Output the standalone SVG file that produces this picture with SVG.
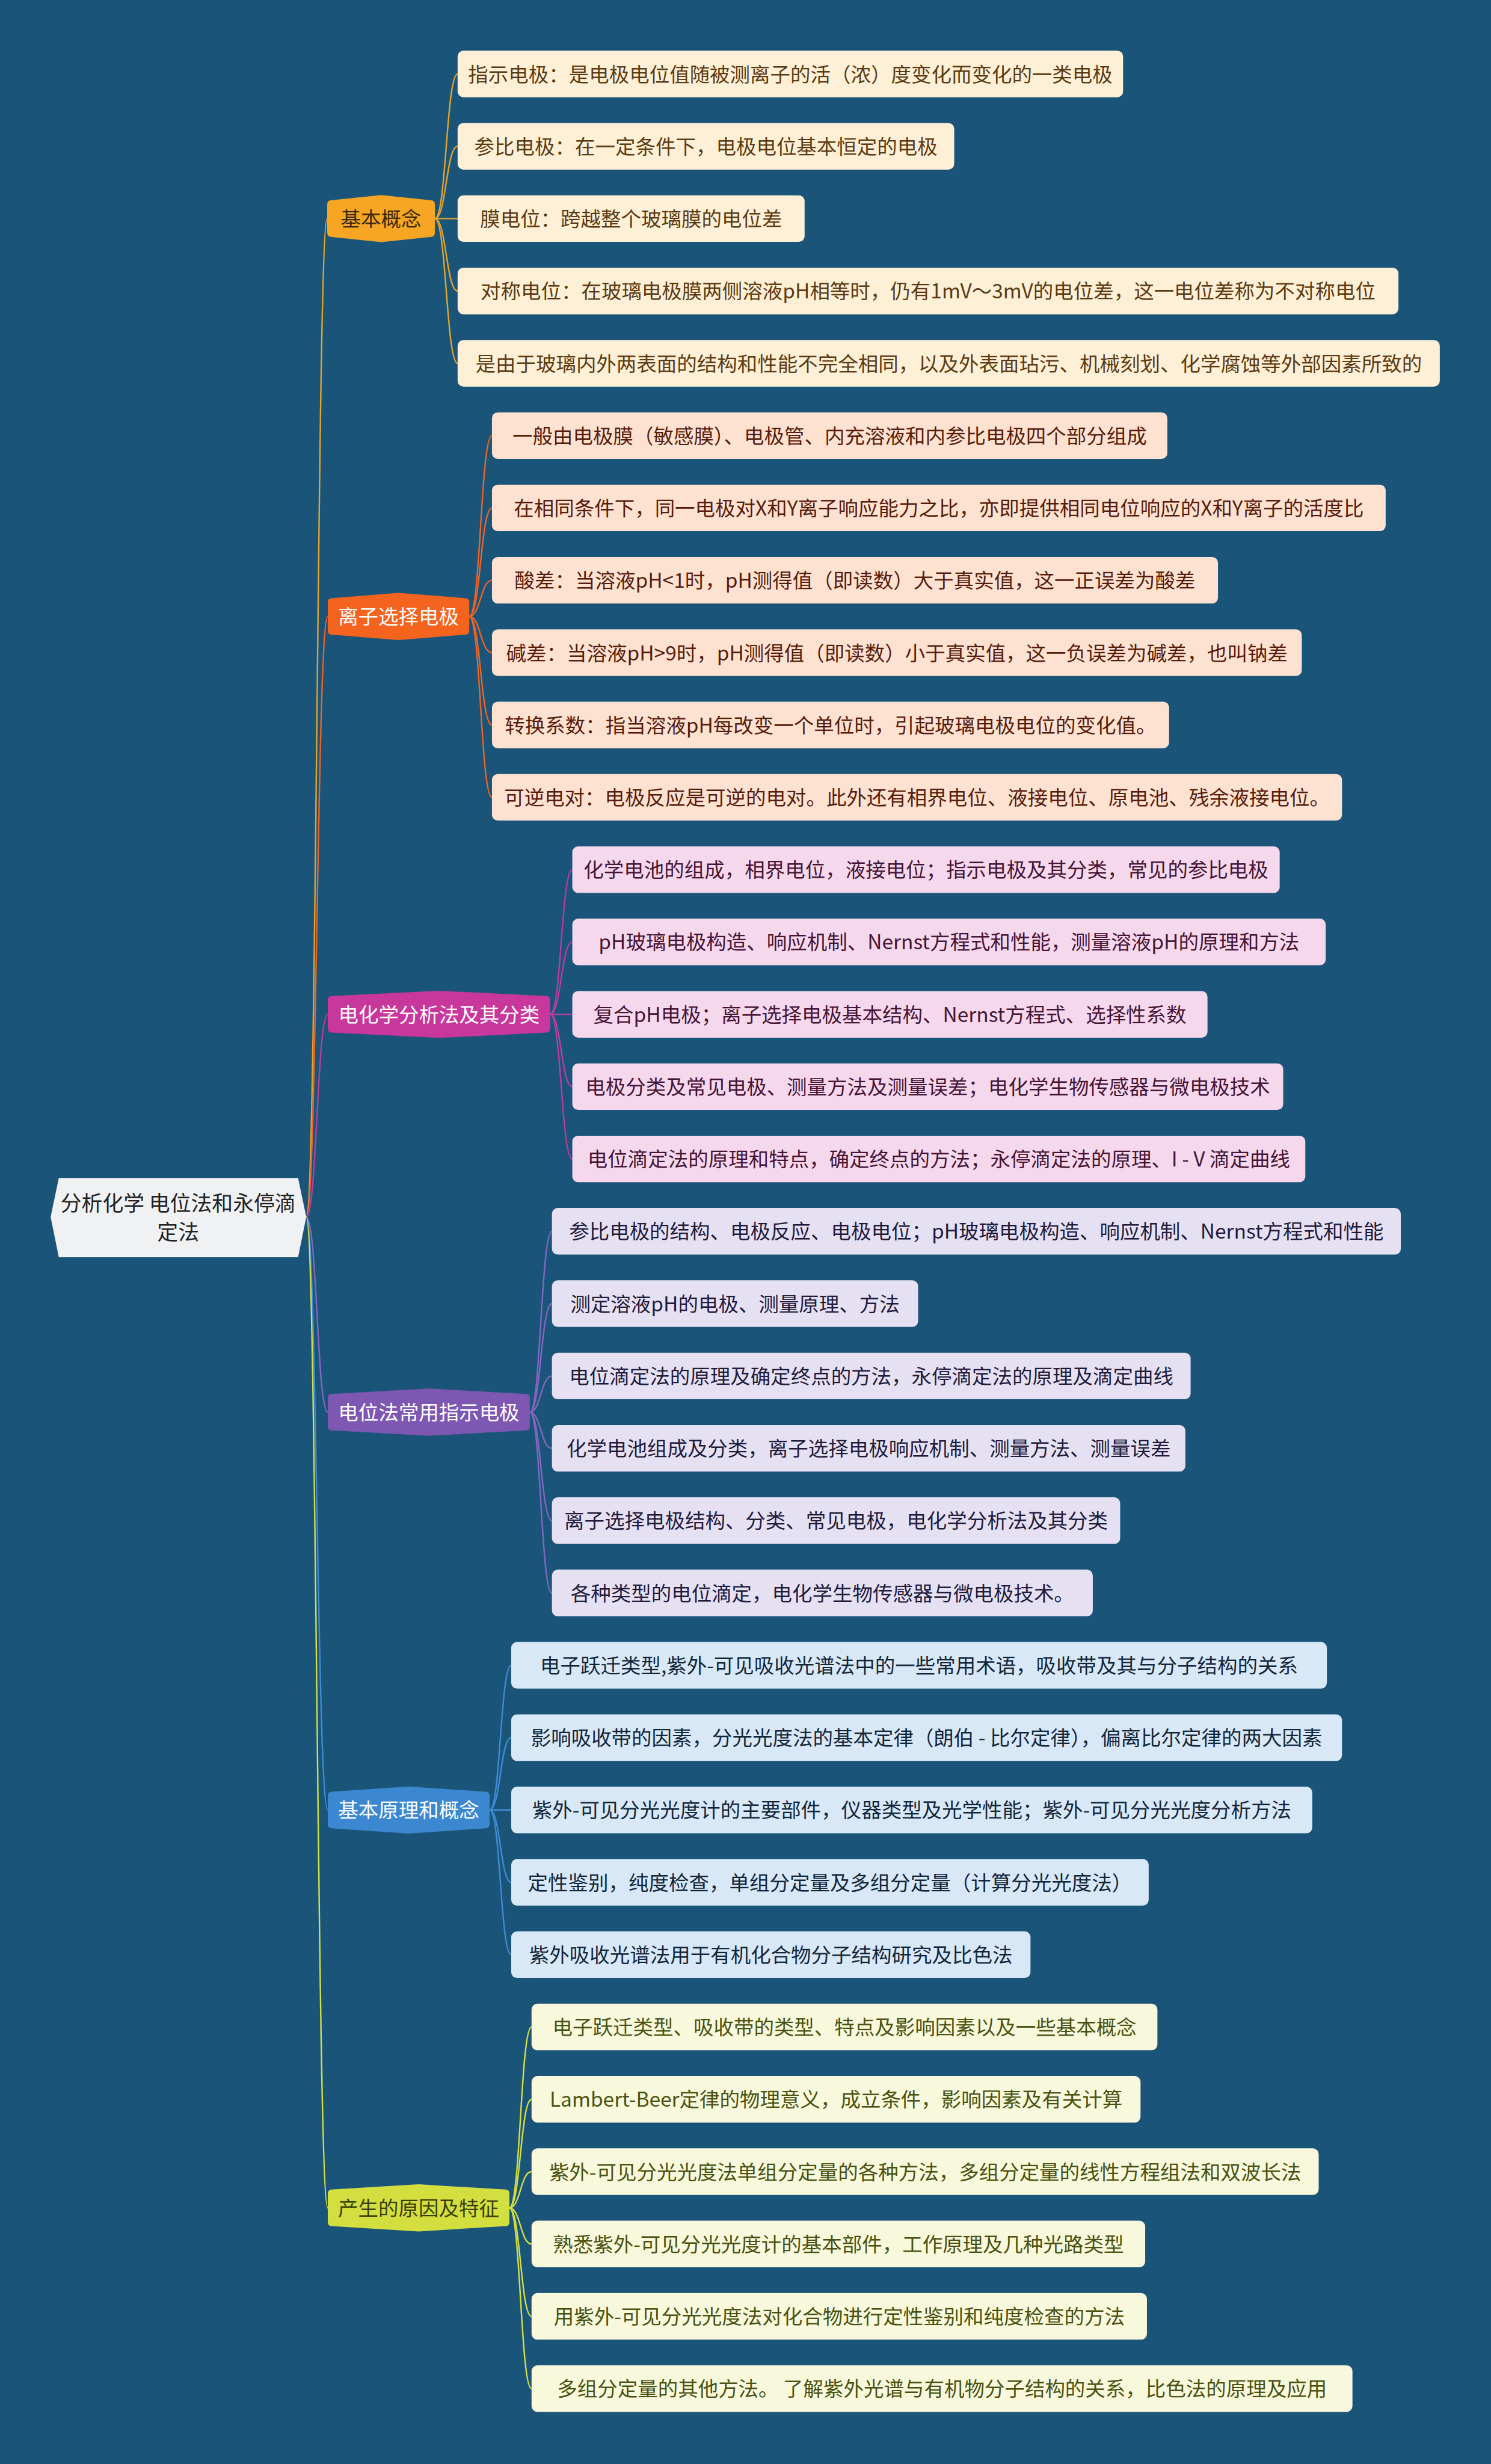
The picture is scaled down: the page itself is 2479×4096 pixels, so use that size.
<svg xmlns="http://www.w3.org/2000/svg" width="2479" height="4096" viewBox="0 0 2479 4096">
<style>
text{font-family:"Noto Sans CJK SC","Noto Sans",sans-serif;font-size:34.6px;text-anchor:middle}
.rt{font-size:36px;fill:#222222}
.box{stroke:none}
.c path{fill:none;stroke-width:2.5}
.b1 .box{fill:#fdf0d6}.b1 text{fill:#5c3a12}.b1 .hx{fill:#f6a623}.b1 .ht{fill:#3b2a08}
.b2 .box{fill:#fde2d2}.b2 text{fill:#571c0b}.b2 .hx{fill:#f5641f}.b2 .ht{fill:#ffffff}
.b3 .box{fill:#f5d8ec}.b3 text{fill:#461435}.b3 .hx{fill:#c8379b}.b3 .ht{fill:#ffffff}
.b4 .box{fill:#e6e1f2}.b4 text{fill:#221b3b}.b4 .hx{fill:#7d57b1}.b4 .ht{fill:#ffffff}
.b5 .box{fill:#d8e8f6}.b5 text{fill:#12263a}.b5 .hx{fill:#3b88d1}.b5 .ht{fill:#ffffff}
.b6 .box{fill:#f7f8dc}.b6 text{fill:#4a5210}.b6 .hx{fill:#d3df3f}.b6 .ht{fill:#3a3e08}
.k1{stroke:#e2a42c}.k2{stroke:#ec6428}.k3{stroke:#b83d9e}.k4{stroke:#8466c2}.k5{stroke:#3e8bd6}.k6{stroke:#d3e044}
</style>
<rect x="0" y="0" width="2479" height="4096" fill="#1b5479"/>
<g transform="scale(0.968)">
<g id="connectors" class="c">
<path class="k1" d="M526,2090 C544.5,2090 544.5,375.4 562,375.4"/>
<path class="k2" d="M526,2090 C544.5,2090 544.5,1058.6 563,1058.6"/>
<path class="k3" d="M526,2090 C544.5,2090 544.5,1741.9 563,1741.9"/>
<path class="k4" d="M526,2090 C544.5,2090 544.5,2425.1 563,2425.1"/>
<path class="k5" d="M526,2090 C544.5,2090 544.5,3108.3 563,3108.3"/>
<path class="k6" d="M526,2090 C544.5,2090 544.5,3791.5 563,3791.5"/>
<path class="k1" d="M747,375.4 C766.5,375.4 766.5,127 786,127"/>
<path class="k1" d="M747,375.4 C766.5,375.4 766.5,251.2 786,251.2"/>
<path class="k1" d="M747,375.4 C766.5,375.4 766.5,375.4 786,375.4"/>
<path class="k1" d="M747,375.4 C766.5,375.4 766.5,499.7 786,499.7"/>
<path class="k1" d="M747,375.4 C766.5,375.4 766.5,623.9 786,623.9"/>
<path class="k2" d="M806,1058.6 C825.5,1058.6 825.5,748.1 845,748.1"/>
<path class="k2" d="M806,1058.6 C825.5,1058.6 825.5,872.3 845,872.3"/>
<path class="k2" d="M806,1058.6 C825.5,1058.6 825.5,996.5 845,996.5"/>
<path class="k2" d="M806,1058.6 C825.5,1058.6 825.5,1120.8 845,1120.8"/>
<path class="k2" d="M806,1058.6 C825.5,1058.6 825.5,1245 845,1245"/>
<path class="k2" d="M806,1058.6 C825.5,1058.6 825.5,1369.2 845,1369.2"/>
<path class="k3" d="M945,1741.9 C964,1741.9 964,1493.4 983,1493.4"/>
<path class="k3" d="M945,1741.9 C964,1741.9 964,1617.6 983,1617.6"/>
<path class="k3" d="M945,1741.9 C964,1741.9 964,1741.9 983,1741.9"/>
<path class="k3" d="M945,1741.9 C964,1741.9 964,1866.1 983,1866.1"/>
<path class="k3" d="M945,1741.9 C964,1741.9 964,1990.3 983,1990.3"/>
<path class="k4" d="M910,2425.1 C929,2425.1 929,2114.5 948,2114.5"/>
<path class="k4" d="M910,2425.1 C929,2425.1 929,2238.7 948,2238.7"/>
<path class="k4" d="M910,2425.1 C929,2425.1 929,2363 948,2363"/>
<path class="k4" d="M910,2425.1 C929,2425.1 929,2487.2 948,2487.2"/>
<path class="k4" d="M910,2425.1 C929,2425.1 929,2611.4 948,2611.4"/>
<path class="k4" d="M910,2425.1 C929,2425.1 929,2735.6 948,2735.6"/>
<path class="k5" d="M841,3108.3 C859.5,3108.3 859.5,2859.8 878,2859.8"/>
<path class="k5" d="M841,3108.3 C859.5,3108.3 859.5,2984.1 878,2984.1"/>
<path class="k5" d="M841,3108.3 C859.5,3108.3 859.5,3108.3 878,3108.3"/>
<path class="k5" d="M841,3108.3 C859.5,3108.3 859.5,3232.5 878,3232.5"/>
<path class="k5" d="M841,3108.3 C859.5,3108.3 859.5,3356.7 878,3356.7"/>
<path class="k6" d="M875,3791.5 C894,3791.5 894,3480.9 913,3480.9"/>
<path class="k6" d="M875,3791.5 C894,3791.5 894,3605.2 913,3605.2"/>
<path class="k6" d="M875,3791.5 C894,3791.5 894,3729.4 913,3729.4"/>
<path class="k6" d="M875,3791.5 C894,3791.5 894,3853.6 913,3853.6"/>
<path class="k6" d="M875,3791.5 C894,3791.5 894,3977.8 913,3977.8"/>
<path class="k6" d="M875,3791.5 C894,3791.5 894,4102 913,4102"/>
</g>
<g id="root">
<polygon points="101,2023 512,2023 526,2090 512,2159 101,2159 87,2090" fill="#f0f1f3"/>
<text class="rt" x="306" y="2080">分析化学 电位法和永停滴</text>
<text class="rt" x="306" y="2129">定法</text>
</g>
<g id="branch1" class="b1">
<path class="hx" d="M562,351.4 Q562,344.7 568,344.1 L654.5,334.9 L741,344.1 Q747,344.7 747,351.4 L747,399.4 Q747,406.1 741,406.7 L654.5,415.9 L568,406.7 Q562,406.1 562,399.4 Z"/>
<text class="ht" x="654.5" y="388.4">基本概念</text>
</g>
<g id="leaf1-1" class="b1"><rect class="box" x="786" y="87" width="1143" height="80" rx="10"/><text x="1357.5" y="140">指示电极：是电极电位值随被测离子的活（浓）度变化而变化的一类电极</text></g>
<g id="leaf1-2" class="b1"><rect class="box" x="786" y="211.2" width="853" height="80" rx="10"/><text x="1212.5" y="264.2">参比电极：在一定条件下，电极电位基本恒定的电极</text></g>
<g id="leaf1-3" class="b1"><rect class="box" x="786" y="335.4" width="596" height="80" rx="10"/><text x="1084" y="388.4">膜电位：跨越整个玻璃膜的电位差</text></g>
<g id="leaf1-4" class="b1"><rect class="box" x="786" y="459.7" width="1616" height="80" rx="10"/><text x="1594" y="512.7">对称电位：在玻璃电极膜两侧溶液pH相等时，仍有1mV～3mV的电位差，这一电位差称为不对称电位</text></g>
<g id="leaf1-5" class="b1"><rect class="box" x="786" y="583.9" width="1687" height="80" rx="10"/><text x="1629.5" y="636.9">是由于玻璃内外两表面的结构和性能不完全相同，以及外表面玷污、机械刻划、化学腐蚀等外部因素所致的</text></g>
<g id="branch2" class="b2">
<path class="hx" d="M563,1034.6 Q563,1027.9 569,1027.3 L684.5,1018.1 L800,1027.3 Q806,1027.9 806,1034.6 L806,1082.6 Q806,1089.3 800,1089.9 L684.5,1099.1 L569,1089.9 Q563,1089.3 563,1082.6 Z"/>
<text class="ht" x="684.5" y="1071.6">离子选择电极</text>
</g>
<g id="leaf2-1" class="b2"><rect class="box" x="845" y="708.1" width="1160" height="80" rx="10"/><text x="1425" y="761.1">一般由电极膜（敏感膜）、电极管、内充溶液和内参比电极四个部分组成</text></g>
<g id="leaf2-2" class="b2"><rect class="box" x="845" y="832.3" width="1535" height="80" rx="10"/><text x="1612.5" y="885.3">在相同条件下，同一电极对X和Y离子响应能力之比，亦即提供相同电位响应的X和Y离子的活度比</text></g>
<g id="leaf2-3" class="b2"><rect class="box" x="845" y="956.5" width="1247" height="80" rx="10"/><text x="1468.5" y="1009.5">酸差：当溶液pH&lt;1时，pH测得值（即读数）大于真实值，这一正误差为酸差</text></g>
<g id="leaf2-4" class="b2"><rect class="box" x="845" y="1080.8" width="1391" height="80" rx="10"/><text x="1540.5" y="1133.8">碱差：当溶液pH&gt;9时，pH测得值（即读数）小于真实值，这一负误差为碱差，也叫钠差</text></g>
<g id="leaf2-5" class="b2"><rect class="box" x="845" y="1205" width="1163" height="80" rx="10"/><text x="1426.5" y="1258">转换系数：指当溶液pH每改变一个单位时，引起玻璃电极电位的变化值。</text></g>
<g id="leaf2-6" class="b2"><rect class="box" x="845" y="1329.2" width="1460" height="80" rx="10"/><text x="1575" y="1382.2">可逆电对：电极反应是可逆的电对。此外还有相界电位、液接电位、原电池、残余液接电位。</text></g>
<g id="branch3" class="b3">
<path class="hx" d="M563,1717.9 Q563,1711.2 569,1710.6 L754,1701.4 L939,1710.6 Q945,1711.2 945,1717.9 L945,1765.9 Q945,1772.6 939,1773.2 L754,1782.4 L569,1773.2 Q563,1772.6 563,1765.9 Z"/>
<text class="ht" x="754" y="1754.9">电化学分析法及其分类</text>
</g>
<g id="leaf3-1" class="b3"><rect class="box" x="983" y="1453.4" width="1215" height="80" rx="10"/><text x="1590.5" y="1506.4">化学电池的组成，相界电位，液接电位；指示电极及其分类，常见的参比电极</text></g>
<g id="leaf3-2" class="b3"><rect class="box" x="983" y="1577.6" width="1294" height="80" rx="10"/><text x="1630" y="1630.6">pH玻璃电极构造、响应机制、Nernst方程式和性能，测量溶液pH的原理和方法</text></g>
<g id="leaf3-3" class="b3"><rect class="box" x="983" y="1701.9" width="1091" height="80" rx="10"/><text x="1528.5" y="1754.9">复合pH电极；离子选择电极基本结构、Nernst方程式、选择性系数</text></g>
<g id="leaf3-4" class="b3"><rect class="box" x="983" y="1826.1" width="1221" height="80" rx="10"/><text x="1593.5" y="1879.1">电极分类及常见电极、测量方法及测量误差；电化学生物传感器与微电极技术</text></g>
<g id="leaf3-5" class="b3"><rect class="box" x="983" y="1950.3" width="1259" height="80" rx="10"/><text x="1612.5" y="2003.3">电位滴定法的原理和特点，确定终点的方法；永停滴定法的原理、I - V 滴定曲线</text></g>
<g id="branch4" class="b4">
<path class="hx" d="M563,2401.1 Q563,2394.4 569,2393.8 L736.5,2384.6 L904,2393.8 Q910,2394.4 910,2401.1 L910,2449.1 Q910,2455.8 904,2456.4 L736.5,2465.6 L569,2456.4 Q563,2455.8 563,2449.1 Z"/>
<text class="ht" x="736.5" y="2438.1">电位法常用指示电极</text>
</g>
<g id="leaf4-1" class="b4"><rect class="box" x="948" y="2074.5" width="1458" height="80" rx="10"/><text x="1677" y="2127.5">参比电极的结构、电极反应、电极电位；pH玻璃电极构造、响应机制、Nernst方程式和性能</text></g>
<g id="leaf4-2" class="b4"><rect class="box" x="948" y="2198.7" width="629" height="80" rx="10"/><text x="1262.5" y="2251.7">测定溶液pH的电极、测量原理、方法</text></g>
<g id="leaf4-3" class="b4"><rect class="box" x="948" y="2323" width="1097" height="80" rx="10"/><text x="1496.5" y="2376">电位滴定法的原理及确定终点的方法，永停滴定法的原理及滴定曲线</text></g>
<g id="leaf4-4" class="b4"><rect class="box" x="948" y="2447.2" width="1088" height="80" rx="10"/><text x="1492" y="2500.2">化学电池组成及分类，离子选择电极响应机制、测量方法、测量误差</text></g>
<g id="leaf4-5" class="b4"><rect class="box" x="948" y="2571.4" width="976" height="80" rx="10"/><text x="1436" y="2624.4">离子选择电极结构、分类、常见电极，电化学分析法及其分类</text></g>
<g id="leaf4-6" class="b4"><rect class="box" x="948" y="2695.6" width="929" height="80" rx="10"/><text x="1412.5" y="2748.6">各种类型的电位滴定，电化学生物传感器与微电极技术。</text></g>
<g id="branch5" class="b5">
<path class="hx" d="M563,3084.3 Q563,3077.6 569,3077 L702,3067.8 L835,3077 Q841,3077.6 841,3084.3 L841,3132.3 Q841,3139 835,3139.6 L702,3148.8 L569,3139.6 Q563,3139 563,3132.3 Z"/>
<text class="ht" x="702" y="3121.3">基本原理和概念</text>
</g>
<g id="leaf5-1" class="b5"><rect class="box" x="878" y="2819.8" width="1401" height="80" rx="10"/><text x="1578.5" y="2872.8">电子跃迁类型,紫外-可见吸收光谱法中的一些常用术语，吸收带及其与分子结构的关系</text></g>
<g id="leaf5-2" class="b5"><rect class="box" x="878" y="2944.1" width="1427" height="80" rx="10"/><text x="1591.5" y="2997.1">影响吸收带的因素，分光光度法的基本定律（朗伯 - 比尔定律），偏离比尔定律的两大因素</text></g>
<g id="leaf5-3" class="b5"><rect class="box" x="878" y="3068.3" width="1376" height="80" rx="10"/><text x="1566" y="3121.3">紫外-可见分光光度计的主要部件，仪器类型及光学性能；紫外-可见分光光度分析方法</text></g>
<g id="leaf5-4" class="b5"><rect class="box" x="878" y="3192.5" width="1095" height="80" rx="10"/><text x="1425.5" y="3245.5">定性鉴别，纯度检查，单组分定量及多组分定量（计算分光光度法）</text></g>
<g id="leaf5-5" class="b5"><rect class="box" x="878" y="3316.7" width="892" height="80" rx="10"/><text x="1324" y="3369.7">紫外吸收光谱法用于有机化合物分子结构研究及比色法</text></g>
<g id="branch6" class="b6">
<path class="hx" d="M563,3767.5 Q563,3760.8 569,3760.2 L719,3751 L869,3760.2 Q875,3760.8 875,3767.5 L875,3815.5 Q875,3822.2 869,3822.8 L719,3832 L569,3822.8 Q563,3822.2 563,3815.5 Z"/>
<text class="ht" x="719" y="3804.5">产生的原因及特征</text>
</g>
<g id="leaf6-1" class="b6"><rect class="box" x="913" y="3440.9" width="1075" height="80" rx="10"/><text x="1450.5" y="3493.9">电子跃迁类型、吸收带的类型、特点及影响因素以及一些基本概念</text></g>
<g id="leaf6-2" class="b6"><rect class="box" x="913" y="3565.2" width="1046" height="80" rx="10"/><text x="1436" y="3618.2">Lambert-Beer定律的物理意义，成立条件，影响因素及有关计算</text></g>
<g id="leaf6-3" class="b6"><rect class="box" x="913" y="3689.4" width="1352" height="80" rx="10"/><text x="1589" y="3742.4">紫外-可见分光光度法单组分定量的各种方法，多组分定量的线性方程组法和双波长法</text></g>
<g id="leaf6-4" class="b6"><rect class="box" x="913" y="3813.6" width="1054" height="80" rx="10"/><text x="1440" y="3866.6">熟悉紫外-可见分光光度计的基本部件，工作原理及几种光路类型</text></g>
<g id="leaf6-5" class="b6"><rect class="box" x="913" y="3937.8" width="1057" height="80" rx="10"/><text x="1441.5" y="3990.8">用紫外-可见分光光度法对化合物进行定性鉴别和纯度检查的方法</text></g>
<g id="leaf6-6" class="b6"><rect class="box" x="913" y="4062" width="1410" height="80" rx="10"/><text x="1618" y="4115">多组分定量的其他方法。 了解紫外光谱与有机物分子结构的关系，比色法的原理及应用</text></g>
</g>
</svg>
